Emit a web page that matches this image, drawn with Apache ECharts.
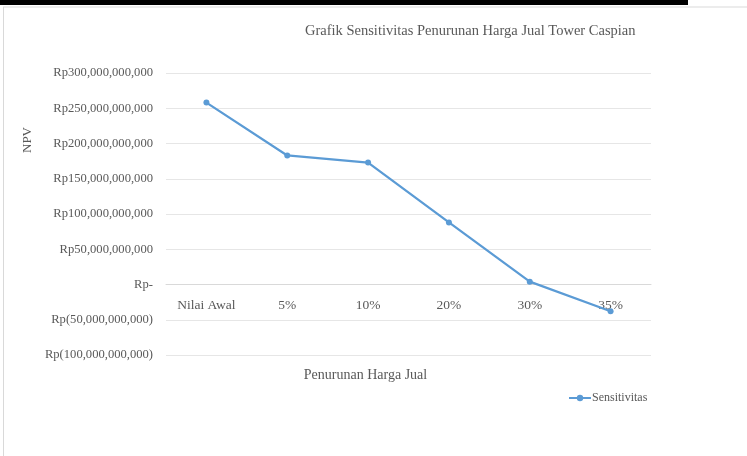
<!DOCTYPE html>
<html>
<head>
<meta charset="utf-8">
<script src="https://cdn.jsdelivr.net/npm/echarts@6/dist/echarts.min.js"></script>
<style>
  html, body { margin: 0; padding: 0; background: #fff; }
  #chart { width: 747px; height: 456px; }
</style>
</head>
<body>
<div id="chart"></div>
<script>
const categories = ['Nilai Awal', '5%', '10%', '20%', '30%', '35%'];
const npvValues = [258e9, 183e9, 173e9, 88e9, 4e9, -38e9];
const seriesName = 'Sensitivitas';

function rupiah(v) {
    if (v === 0) return 'Rp-';
    const s = Math.abs(v).toLocaleString('en-US');
    return v < 0 ? 'Rp(' + s + ')' : 'Rp' + s;
}

const font = 'Liberation Serif';
const grey = '#595959';

const chart = echarts.init(document.getElementById('chart'));
chart.setOption({
    animation: false,
    textStyle: { fontFamily: font },
    title: {
        text: 'Grafik Sensitivitas Penurunan Harga Jual Tower Caspian',
        left: 305,
        top: 24,
        padding: 0,
        textStyle: { fontFamily: font, fontSize: 14.5, fontWeight: 'normal', color: grey }
    },
    legend: {
        data: [seriesName],
        left: 563,
        top: 387,
        itemWidth: 22,
        itemHeight: 8,
        itemGap: 4,
        textStyle: { fontFamily: font, fontSize: 12, color: grey, padding: [0, 0, 0, -4] }
    },
    grid: {
        left: 166, right: 96, top: 73, bottom: 101,
        containLabel: false,
        outerBoundsMode: 'none'
    },
    xAxis: {
        type: 'category',
        data: categories,
        offset: -71,
        name: 'Penurunan Harga Jual',
        nameLocation: 'middle',
        nameGap: 84,
        nameTextStyle: { fontFamily: font, fontSize: 14, color: grey, padding: [0, 86, 0, 0] },
        axisLine: { lineStyle: { color: '#d9d9d9' } },
        axisTick: { show: false },
        axisLabel: { interval: 0, fontFamily: font, fontSize: 13.5, color: grey, margin: 14 }
    },
    yAxis: {
        type: 'value',
        min: -100e9,
        max: 300e9,
        interval: 50e9,
        name: 'NPV',
        nameLocation: 'middle',
        nameGap: 130,
        nameRotate: 90,
        nameTextStyle: { fontFamily: font, fontSize: 13, color: grey, padding: [0, 0, 0, 148] },
        axisLine: { show: false },
        axisTick: { show: false },
        axisLabel: { fontFamily: font, fontSize: 12.6, color: grey, margin: 13, formatter: rupiah },
        splitLine: { lineStyle: { color: '#e6e6e6' } }
    },
    series: [{
        name: seriesName,
        type: 'line',
        data: npvValues,
        symbol: 'circle',
        symbolSize: 6,
        lineStyle: { color: '#5b9bd5', width: 2.25 },
        itemStyle: { color: '#5b9bd5' }
    }],
    graphic: [
        { type: 'rect', shape: { x: 0, y: 0, width: 688, height: 5 }, style: { fill: '#000' } },
        { type: 'line', shape: { x1: 3, y1: 7, x2: 747, y2: 7 }, style: { stroke: '#d9d9d9', lineWidth: 1 } },
        { type: 'line', shape: { x1: 3.5, y1: 7, x2: 3.5, y2: 456 }, style: { stroke: '#d9d9d9', lineWidth: 1 } }
    ]
});
</script>
</body>
</html>
